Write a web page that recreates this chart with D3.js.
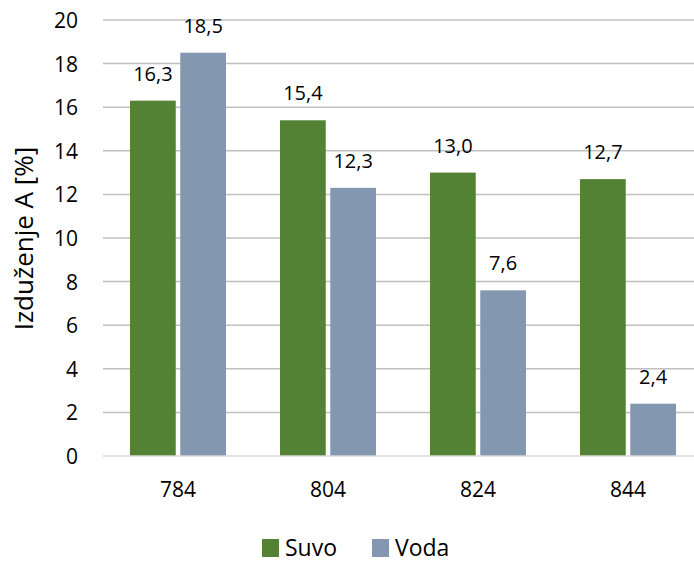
<!DOCTYPE html>
<html><head><meta charset="utf-8">
<script src="https://cdn.jsdelivr.net/npm/d3@7"></script>
<style>body{margin:0;background:#fff}svg{display:block;font-family:"Open Sans",sans-serif}</style>
</head><body><svg id="c" width="694" height="563"></svg>
<script>
const categories = ["784","804","824","844"];
const seriesNames = ["Suvo","Voda"];
const suvo = [16.3,15.4,13.0,12.7];
const voda = [18.5,12.3,7.6,2.4];
const yTicks = [0,2,4,6,8,10,12,14,16,18,20];
const colors = ["#548235","#8497B0"];

(function(){
const svg = d3.select("#c");
const pL = 103, pR = 703, pT = 20, pB = 456;
const x0 = d3.scaleBand().domain(categories).range([pL,pR]).padding(0);
const x1 = d3.scaleBand().domain(seriesNames).range([27,123]).paddingInner(0.09);
const y = d3.scaleLinear().domain([0,20]).range([pB,pT]);

// gridlines
svg.append("g").selectAll("line").data(yTicks.filter(d=>d>0)).join("line")
  .attr("x1",pL).attr("x2",pR).attr("y1",d=>y(d)).attr("y2",d=>y(d))
  .attr("stroke","#bfbfbf").attr("stroke-width",1.5);

// y axis labels
const yAxis = d3.axisLeft(y).tickValues(yTicks).tickSize(0).tickPadding(0);
const ga = svg.append("g").attr("transform",`translate(78,0)`).call(yAxis);
ga.select(".domain").remove();
ga.selectAll("text").attr("font-size",21).attr("fill","#000").attr("font-family","Open Sans").attr("dy","0.36em");

const data = categories.map((c,i)=>({cat:c, vals:[{s:"Suvo",v:suvo[i]},{s:"Voda",v:voda[i]}]}));
const g = svg.append("g").selectAll("g").data(data).join("g")
  .attr("transform",d=>`translate(${x0(d.cat)},0)`);
g.selectAll("rect").data(d=>d.vals).join("rect")
  .attr("x",d=>x1(d.s)).attr("width",x1.bandwidth())
  .attr("y",d=>y(d.v)).attr("height",d=>y(0)-y(d.v))
  .attr("fill",(d,i)=>colors[i]);
g.selectAll("text").data(d=>d.vals).join("text")
  .attr("x",d=>x1(d.s)+x1.bandwidth()/2).attr("y",d=>y(d.v)-20)
  .attr("text-anchor","middle").attr("font-size",20).attr("fill","#000")
  .text(d=>d.v.toFixed(1).replace(".",","));

// x axis
svg.append("line").attr("x1",pL).attr("x2",pR).attr("y1",y(0)).attr("y2",y(0))
  .attr("stroke","#d9d9d9").attr("stroke-width",1.5);
const xAxis = d3.axisBottom(x0).tickSize(0).tickPadding(0);
const gx = svg.append("g").attr("transform",`translate(0,${y(0)})`).call(xAxis);
gx.select(".domain").remove();
gx.selectAll("text").attr("font-size",21).attr("fill","#000").attr("font-family","Open Sans").attr("dy",null).attr("y",41);

// y title
svg.append("text").attr("transform","translate(33,238.5) rotate(-90)")
  .attr("text-anchor","middle").attr("font-size",26).attr("fill","#000")
  .text("Izduženje A [%]");

// legend
const legX = [262,372];
const lg = svg.append("g").selectAll("g").data(seriesNames).join("g")
  .attr("transform",(d,i)=>`translate(${legX[i]},539)`);
lg.append("rect").attr("width",17).attr("height",18).attr("fill",(d,i)=>colors[i]);
lg.append("text").attr("x",23).attr("y",17).attr("font-size",23).attr("fill","#000").text(d=>d);
})();
</script></body></html>
